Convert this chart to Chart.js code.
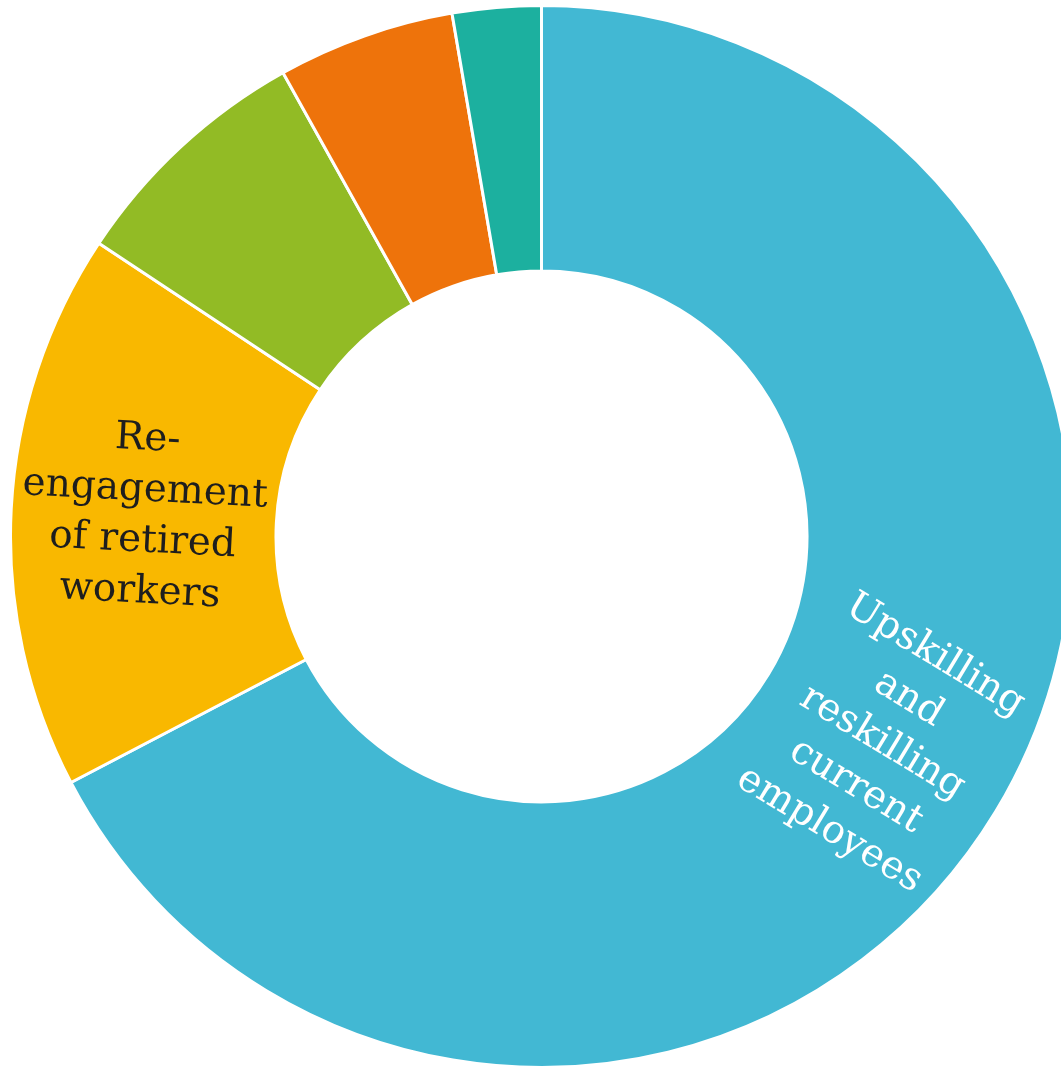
<!DOCTYPE html>
<html>
<head>
<meta charset="utf-8">
<script src="https://cdn.jsdelivr.net/npm/chart.js@4.4.1/dist/chart.umd.min.js"></script>
<style>
  html, body { margin: 0; padding: 0; background: #ffffff; overflow: hidden; width: 1061px; height: 1072px; }
  #wrap { position: relative; width: 1061px; height: 1072px; overflow: hidden; }
  #chart { position: absolute; left: 9px; top: 4px; }
</style>
</head>
<body>
<div id="wrap"><canvas id="chart" width="1065" height="1065"></canvas></div>
<script>
// Strategies for closing the skills gap (share of responses, %)
const categories = [
  'Upskilling and reskilling current employees',
  'Re-engagement of retired workers',
  'Other strategy A',
  'Other strategy B',
  'Other strategy C'
];
const shares = [67.4, 17.0, 7.6, 5.4, 2.7];
const sliceColors = ['#42b8d3', '#f9b800', '#92bb25', '#ee730b', '#1cb09f'];

// Wrapped in-slice captions (only the two largest slices carry one)
const captionLines = [
  ['Upskilling', 'and', 'reskilling', 'current', 'employees'],
  ['Re-', 'engagement', 'of retired', 'workers'],
  null,
  null,
  null
];
const captionColors = ['#ffffff', '#1e1e1e', null, null, null];

// Draws each caption at the slice's mid-radius, turned to follow the slice's mid-angle
const sliceCaptions = {
  id: 'sliceCaptions',
  afterDatasetsDraw(chart) {
    const ctx = chart.ctx;
    const meta = chart.getDatasetMeta(0);
    meta.data.forEach((arc, i) => {
      const lines = captionLines[i];
      if (!lines) return;
      const p = arc.getProps(['x', 'y', 'startAngle', 'endAngle', 'innerRadius', 'outerRadius'], true);
      const mid = (p.startAngle + p.endAngle) / 2;
      const r = (p.innerRadius + p.outerRadius) / 2;
      const cx = p.x + Math.cos(mid) * r;
      const cy = p.y + Math.sin(mid) * r;
      let rot = ((mid % (2 * Math.PI)) + 2 * Math.PI) % (2 * Math.PI);
      if (rot > Math.PI / 2 && rot < 3 * Math.PI / 2) rot -= Math.PI;
      ctx.save();
      ctx.translate(cx, cy);
      ctx.rotate(rot);
      ctx.font = '39px "DejaVu Serif"';
      ctx.fillStyle = captionColors[i];
      ctx.textAlign = 'center';
      ctx.textBaseline = 'middle';
      const lh = 51;
      const top = -(lines.length - 1) * lh / 2;
      lines.forEach((line, k) => ctx.fillText(line, 0, top + k * lh));
      ctx.restore();
    });
  }
};

new Chart(document.getElementById('chart'), {
  type: 'doughnut',
  data: {
    labels: categories,
    datasets: [{
      data: shares,
      backgroundColor: sliceColors,
      borderColor: '#ffffff',
      borderWidth: 3,
      hoverOffset: 0
    }]
  },
  options: {
    responsive: false,
    animation: false,
    cutout: '50%',
    layout: { padding: 0 },
    plugins: {
      legend: { display: false },
      tooltip: { enabled: false }
    }
  },
  plugins: [sliceCaptions]
});
</script>
</body>
</html>
